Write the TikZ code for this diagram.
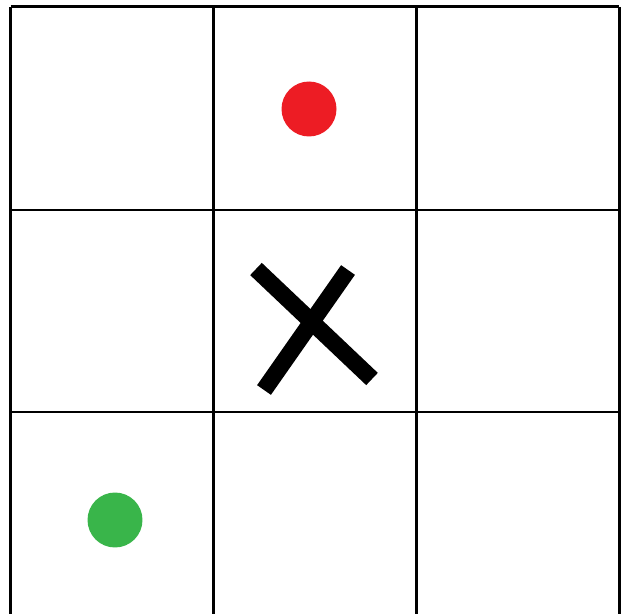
\documentclass[tikz,border=0pt]{standalone}
\usetikzlibrary{positioning}

\definecolor{dotred}{RGB}{237,28,36}
\definecolor{dotgreen}{RGB}{57,181,74}

\begin{document}
\begin{tikzpicture}[
x=0.02cm, y=-0.02cm,
gridline/.style={draw=black, line width=1.7pt},
cross/.style={draw=black, line width=9.6pt},
dot/.style={circle, minimum size=1.1cm, inner sep=0pt}
]
\useasboundingbox (0,0) rectangle (621,614);
\clip (0,0) rectangle (621,614);

% Grid
\foreach \gx in {10.5,213.5,416.5,619}
  \draw[gridline] (\gx,7) -- (\gx,640);
\foreach \gy in {7,210,412}
  \draw[gridline] (10.5,\gy) -- (619,\gy);

% Dots
\node[dot, fill=dotred] (reddot) at (309,109) {};
\node[dot, fill=dotgreen] (greendot) at (115,520) {};

% Cross in the centre cell
\coordinate (crossA1) at (256,269);
\coordinate (crossA2) at (372,379);
\coordinate (crossB1) at (348,270);
\coordinate (crossB2) at (264,390);
\draw[cross] (crossA1) -- (crossA2);
\draw[cross] (crossB1) -- (crossB2);

\end{tikzpicture}
\end{document}
